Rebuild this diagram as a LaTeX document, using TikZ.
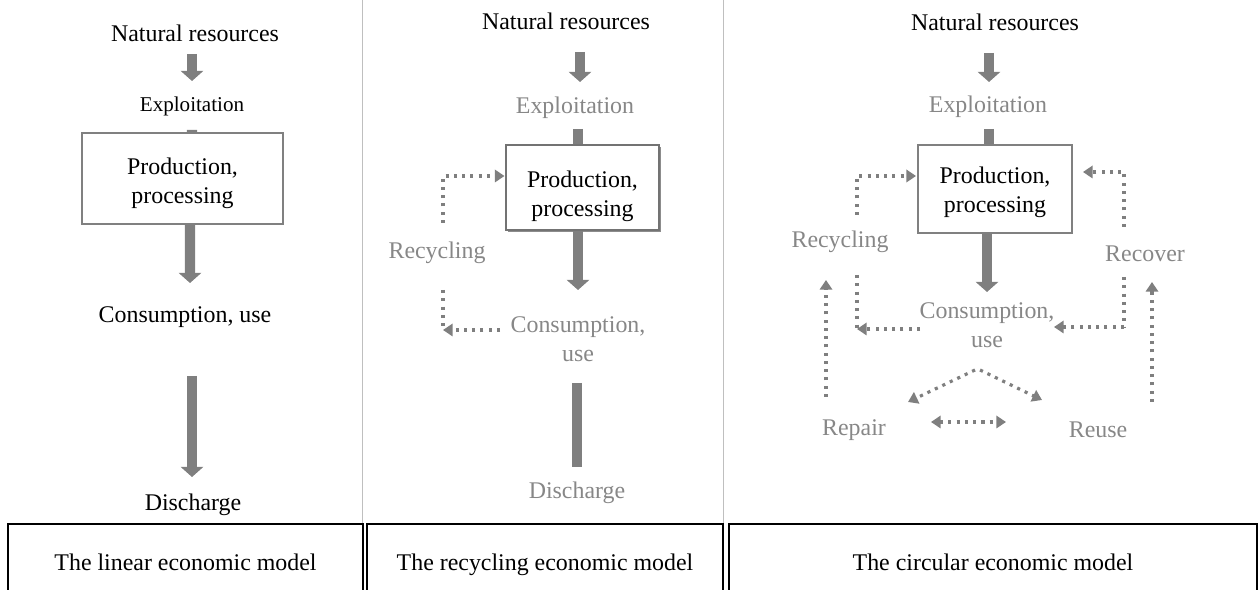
\documentclass[tikz,border=0pt]{standalone}
\usepackage{fontspec}
\setmainfont{Liberation Serif}
\usetikzlibrary{arrows.meta,calc,shadows}
\definecolor{ink}{HTML}{000000}
\definecolor{flowgray}{HTML}{7F7F7F}
\definecolor{softtext}{HTML}{878787}
\definecolor{boxline}{HTML}{808080}
\definecolor{rulegray}{HTML}{BFBFBF}

\begin{document}
\begin{tikzpicture}[
  x=0.02cm, y=-0.02cm,
  font=\fontsize{13.6}{16.5}\selectfont,
  lbl/.style={inner sep=0pt, align=center, text=ink},
  soft/.style={lbl, text=softtext},
  procbox/.style={draw=boxline, line width=1.1pt, fill=white, align=center, inner sep=0pt},
  model/.style={draw=ink, line width=0.8pt, align=center, inner sep=0pt,
    minimum height=1.64cm, text height=9.3pt, text depth=3pt},
  flow/.style={draw=flowgray, line width=5.8pt, -{Triangle[width=12.5pt,length=5.7pt]}},
  flowbar/.style={draw=flowgray, line width=5.8pt},
  dotline/.style={draw=flowgray, line width=1.8pt, dash pattern=on 1.8pt off 2.9pt},
  backflow/.style={dotline, -{Triangle[width=7pt,length=5.5pt]}},
  twoway/.style={dotline, {Triangle[width=7pt,length=5.5pt]}-{Triangle[width=7pt,length=5.5pt]}},
  divider/.style={draw=rulegray, line width=0.5pt}
]
\useasboundingbox (0,0) rectangle (1258,590);

\draw[divider] (362,0) -- (362,524);
\draw[divider] (723,0) -- (723,524);

% linear model
\node[lbl] (nat1) at (195,33) {Natural resources};
\node[lbl, font=\fontsize{12}{14}\selectfont] (expl1) at (192,106) {Exploitation};
\node[procbox, minimum width=4.02cm, minimum height=1.82cm] (prod1) at (182.5,178.5)
  {\rule{0pt}{14.4pt}Production,\\processing};
\node[lbl] (cons1) at (185,317) {Consumption, use};
\node[lbl] (disc1) at (193,505) {Discharge};
\draw[flow] ($(nat1)+(-3,21)$) -- ($(expl1)+(0,-25)$);
\draw[flowbar] ($(expl1)+(0,24)$) -- ($(prod1.north)+(9.5,0)$);
\draw[flow] ($(prod1.south)+(7.5,0)$) -- ($(cons1)+(5,-34)$);
\draw[flow] ($(cons1)+(7,59)$) -- ($(disc1)+(-1,-28)$);

% recycling model
\node[lbl] (nat2) at (566,21.5) {Natural resources};
\node[soft] (expl2) at (575,108) {Exploitation};
\node[procbox, draw=black!55, line width=0.6pt,
  drop shadow={shadow xshift=1.3pt, shadow yshift=-1.3pt, fill=black!45, opacity=1},
  minimum width=3.06cm, minimum height=1.7cm] (prod2) at (582.5,187.5)
  {\rule{0pt}{18.9pt}Production,\\processing};
\node[soft] (cons2) at (578,339) {Consumption,\\use};
\node[soft] (disc2) at (577,493) {Discharge};
\node[soft] (rec2) at (437,253) {Recycling};
\coordinate (turn2) at (443,330);
\draw[flow] ($(nat2)+(14,30.5)$) -- ($(expl2)+(5,-26)$);
\draw[flowbar] ($(expl2)+(3,21)$) -- ($(prod2.north)+(-4.5,0)$);
\draw[flow] ($(prod2.south)+(-4.5,0)$) -- ($(cons2)+(0,-49)$);
\draw[flowbar] ($(cons2)+(-1,44)$) -- ($(disc2)+(0,-26)$);
\draw[backflow] ($(rec2)+(6,-30)$) |- ($(prod2.west)+(-1,-11.5)$);
\draw[dotline] ($(rec2)+(6,37)$) -- (turn2);
\draw[backflow] ($(cons2)+(-78,-9)$) -- (turn2);

% circular model
\node[lbl] (nat3) at (995,22) {Natural resources};
\node[soft] (expl3) at (988,107) {Exploitation};
\node[procbox, minimum width=3.08cm, minimum height=1.76cm] (prod3) at (995,189)
  {\rule{0pt}{13.3pt}Production,\\processing};
\node[soft] (cons3) at (987,325) {Consumption,\\use};
\node[soft] (rec3) at (840,242) {Recycling};
\node[soft] (recov3) at (1145,254) {Recover};
\node[soft] (repair3) at (854,430) {Repair};
\node[soft] (reuse3) at (1098,430) {Reuse};
\coordinate (turnL) at (857,329);
\coordinate (turnR) at (1124,327);
\draw[flow] ($(nat3)+(-6,31)$) -- ($(expl3)+(1,-25)$);
\draw[flowbar] ($(expl3)+(1,22)$) -- ($(prod3.north)+(-6,0)$);
\draw[flow] ($(prod3.south)+(-8,0)$) -- ($(cons3)+(0,-33)$);
\draw[backflow] ($(rec3)+(17,-27)$) |- ($(prod3.west)+(-1,-13)$);
\draw[backflow] ($(recov3)+(-21,-27)$) |- ($(prod3.east)+(10,-17)$);
\draw[dotline] ($(rec3)+(17,33)$) -- (turnL);
\draw[backflow] ($(cons3)+(-67,4)$) -- (turnL);
\draw[dotline] ($(recov3)+(-21,23)$) -- (turnR);
\draw[backflow] (turnR) -- ($(cons3)+(67,2)$);
\draw[backflow] ($(repair3)+(-28,-33)$) -- ($(rec3)+(-14,38)$);
\draw[backflow] ($(reuse3)+(54,-28)$) -- ($(recov3)+(7,28)$);
\draw[backflow] ($(cons3)+(-12,45)$) -- ($(repair3)+(54,-28)$);
\draw[backflow] ($(cons3)+(-7,45)$) -- ($(reuse3)+(-56,-30)$);
\draw[twoway] ($(repair3)+(77,-8)$) -- ($(reuse3)+(-92,-8)$);

% captions
\node[model, minimum width=7.1cm] (lin) at (185.5,565) {The linear economic model};
\node[model, minimum width=7.12cm] (rcy) at (545,565) {The recycling economic model};
\node[model, minimum width=10.56cm] (circ) at (993,565) {The circular economic model};
\end{tikzpicture}
\end{document}
